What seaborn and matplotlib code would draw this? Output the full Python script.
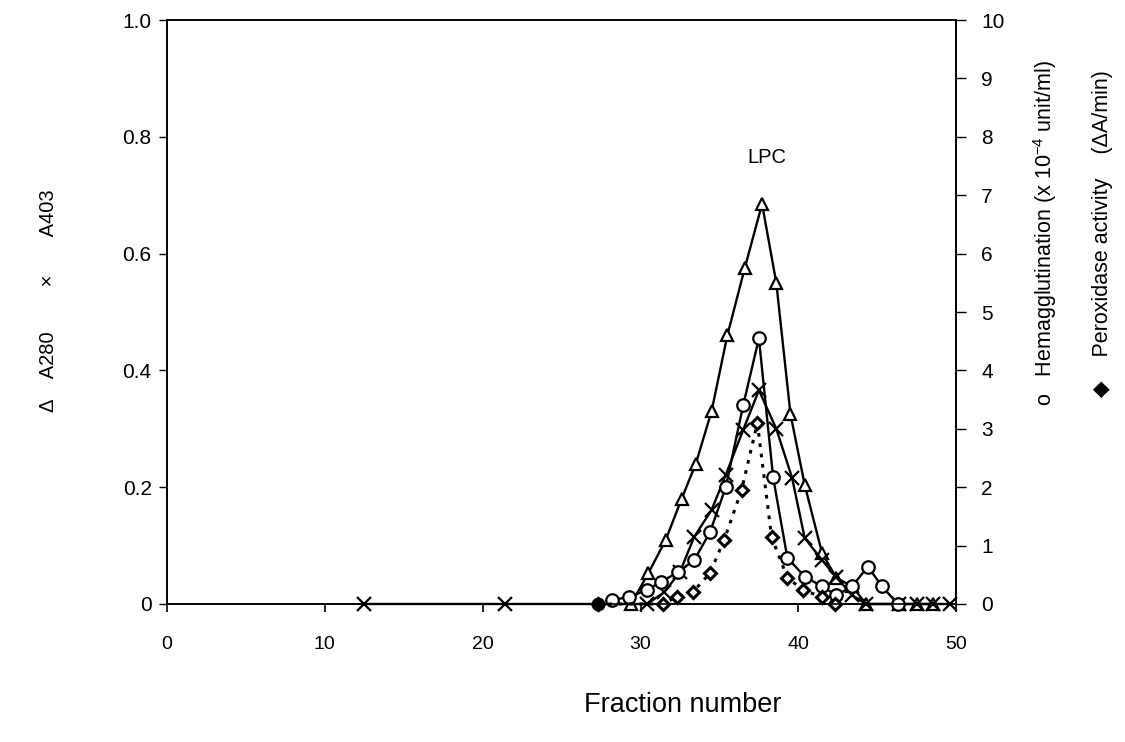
import matplotlib
matplotlib.use("Agg")
import matplotlib.pyplot as plt
import seaborn as sns
import numpy as np

# ---- data ----
frac_a280 = [29.4, 30.5, 31.6, 32.6, 33.5, 34.5, 35.5, 36.6, 37.7, 38.6, 39.5, 40.4,
             41.5, 42.4, 43.4, 44.3, 46.4, 47.5, 48.5]
a280 = [0.0, 0.053, 0.11, 0.18, 0.24, 0.33, 0.46, 0.575, 0.685, 0.55, 0.325, 0.204,
        0.087, 0.045, 0.03, 0.0, 0.0, 0.0, 0.0]

frac_a403 = [12.5, 21.4, 30.4, 31.5, 32.5, 33.4, 34.5, 35.4, 36.5, 37.5, 38.6, 39.6,
             40.4, 41.5, 42.4, 43.4, 44.3, 46.4, 47.5, 48.5, 49.6]
a403 = [0.0, 0.0, 0.0, 0.02, 0.055, 0.115, 0.161, 0.221, 0.298, 0.366, 0.30, 0.216,
        0.113, 0.075, 0.046, 0.015, 0.0, 0.0, 0.0, 0.0, 0.0]

frac_hem = [28.2, 29.3, 30.4, 31.3, 32.4, 33.4, 34.4, 35.4, 36.5, 37.5, 38.4, 39.3,
            40.4, 41.5, 42.4, 43.4, 44.4, 45.3, 46.3]
hem = [0.07, 0.12, 0.24, 0.38, 0.55, 0.75, 1.23, 2.0, 3.4, 4.55, 2.17, 0.79,
       0.47, 0.3, 0.15, 0.3, 0.64, 0.3, 0.0]

frac_perox = [27.3, 31.4, 32.3, 33.3, 34.4, 35.3, 36.4, 37.4, 38.3, 39.3, 40.3, 41.5, 42.3]
perox = [0.0, 0.0, 0.12, 0.2, 0.53, 1.1, 1.95, 3.1, 1.15, 0.45, 0.24, 0.12, 0.0]

x_ticks = [0, 10, 20, 30, 40, 50]
left_ticks = [0, 0.2, 0.4, 0.6, 0.8, 1.0]
left_labels = ["0", "0.2", "0.4", "0.6", "0.8", "1.0"]
right_ticks = list(range(0, 11))

# ---- style ----
sns.set_style("ticks")
plt.rcParams['font.family'] = ['Liberation Sans', 'DejaVu Sans']
plt.rcParams['mathtext.fontset'] = 'custom'
plt.rcParams['mathtext.rm'] = 'Liberation Sans'
plt.rcParams['mathtext.it'] = 'Liberation Sans'
plt.rcParams['text.color'] = 'black'

fig = plt.figure(figsize=(11.25, 7.42), dpi=100)
ax = fig.add_axes([0.1484, 0.186, 0.7016, 0.787])
ax2 = ax.twinx()

lw = 1.7
common = dict(color='black', linewidth=lw, markeredgecolor='black',
              markeredgewidth=1.6, clip_on=False)

sns.lineplot(x=frac_a280, y=a280, ax=ax, marker='^', markersize=9,
             markerfacecolor='white', **common)
sns.lineplot(x=frac_a403, y=a403, ax=ax, marker='x', markersize=10, **common)
sns.lineplot(x=frac_hem, y=hem, ax=ax2, marker='o', markersize=9,
             markerfacecolor='white', **common)
sns.lineplot(x=frac_perox, y=perox, ax=ax2, marker='D', markersize=6.5,
             markerfacecolor='white', linestyle=(0, (1.2, 2.2)), color='black',
             linewidth=2.2, markeredgecolor='black', markeredgewidth=2.2, clip_on=False)
ax2.plot(frac_perox[:1], perox[:1], marker='o', markersize=9, color='black',
         linestyle='none', clip_on=False)

# ---- axes ----
ax.set_xlim(0, 50)
ax.set_ylim(0, 1.0)
ax2.set_ylim(0, 10)
ax.set_xticks(x_ticks)
ax.set_xticklabels([str(t) for t in x_ticks])
ax.set_yticks(left_ticks)
ax.set_yticklabels(left_labels)
ax2.set_yticks(right_ticks)
ax2.set_yticklabels([str(t) for t in right_ticks])

for a in (ax, ax2):
    for s in a.spines.values():
        s.set_visible(True)
        s.set_linewidth(1.2)
        s.set_color('black')

ax.tick_params(axis='x', direction='out', length=6, width=1.2, pad=17,
               labelsize=14, colors='black')
ax.tick_params(axis='y', direction='out', length=6, width=1.0, pad=5,
               labelsize=15, colors='black')
ax2.tick_params(axis='y', direction='out', length=7, width=1.0, pad=11,
                labelsize=15, colors='black')
ax.set_xlabel("")
ax.set_ylabel("")
ax2.set_ylabel("")
ax.grid(False)
ax2.grid(False)

ax.text(38.0, 0.765, "LPC", ha='center', va='center', fontsize=14.5)

fig.text(0.607, 0.050, "Fraction number", ha='center', va='center', fontsize=19.5)
fig.text(0.043, 0.595, "Δ    A280        ×       A403", rotation=90, ha='center',
         va='center', fontsize=14.5)
fig.text(0.929, 0.686, "o   Hemagglutination (x 10$^{-4}$ unit/ml)", rotation=90,
         ha='center', va='center', fontsize=15.5)
fig.text(0.980, 0.685, "◆    Peroxidase activity    (ΔA/min)", rotation=90,
         ha='center', va='center', fontsize=15.5)

fig.savefig("out.png", dpi=100, facecolor='white')
